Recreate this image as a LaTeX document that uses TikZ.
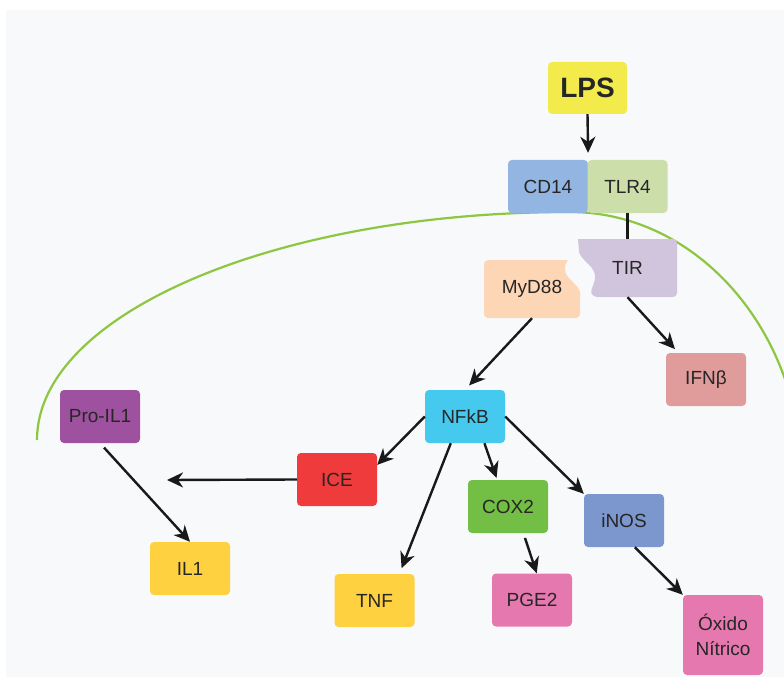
\documentclass[tikz,border=0pt]{standalone}
\usepackage{fontspec}
\setmainfont{Liberation Sans}
\usepackage{tikz}
\usetikzlibrary{arrows.meta}
\definecolor{bgcol}{HTML}{F8F9FB}
\definecolor{lpscol}{HTML}{F3EB4B}
\definecolor{cdcol}{HTML}{93B5E1}
\definecolor{tlrcol}{HTML}{CCDEAA}
\definecolor{tircol}{HTML}{D1C5DD}
\definecolor{mydcol}{HTML}{FDD6B6}
\definecolor{ifncol}{HTML}{E09B9B}
\definecolor{nfcol}{HTML}{46C9EF}
\definecolor{procol}{HTML}{9D519E}
\definecolor{icecol}{HTML}{EF3B3C}
\definecolor{coxcol}{HTML}{73BE44}
\definecolor{inoscol}{HTML}{7B97CD}
\definecolor{ilcol}{HTML}{FDD13F}
\definecolor{pgecol}{HTML}{E578AF}
\definecolor{memcol}{HTML}{8DC63F}
\tikzstyle{box}=[rectangle, rounded corners=4pt, inner sep=0pt, minimum width=80pt, minimum height=53pt, text=black!85, font=\fontsize{19}{25}\selectfont]
\tikzstyle{link}=[-{Stealth[length=16pt,width=15pt,inset=5pt]}, line width=2.4pt, color=black!90]
\tikzstyle{joint}=[line width=2.4pt, color=black!90]
\tikzstyle{membrane}=[line width=2.2pt, color=memcol]

\begin{document}
\begin{tikzpicture}[x=1pt, y=-1pt]
	\useasboundingbox (0,0) rectangle (784,679);
	\fill[bgcol] (6,10) rectangle (784,677);
	\begin{scope}
		\clip (6,10) rectangle (784,677);
		\draw[membrane] (37,440) .. controls (37,314) and (276,212) .. (570,212) .. controls (698,212) and (802,332) .. (802,480);
	\end{scope}
	% puzzle shapes
	\fill[tircol, rounded corners=4pt] (578,239) -- (677,239) -- (677,297) -- (593,297) [sharp corners] .. controls (590,290) and (594,286) .. (595,278) .. controls (596,266) and (582,262) .. (579,252) -- cycle;
	\fill[mydcol, rounded corners=4pt] (568,260) -- (484,260) -- (484,318) -- (580,318) [sharp corners] -- (580,292) .. controls (578,284) and (565,278) .. (565,270) .. controls (565,265) .. (568,260);
	\node[box, fill=lpscol, minimum width=79pt, minimum height=52pt, font=\bfseries\fontsize{28}{30}\selectfont] (lps) at (587.5,88) {LPS};
	\node[box, fill=cdcol] (cd14) at (548,186.5) {CD14};
	\node[box, fill=tlrcol] (tlr4) at (627.5,186.5) {TLR4};
	\node[box, minimum width=99pt, minimum height=58pt] (tir) at (627.5,268) {TIR};
	\node[box, minimum width=96pt, minimum height=58pt] (myd88) at (532,289) {MyD88};
	\node[box, fill=ifncol] (ifnb) at (706,379.5) {IFNβ};
	\node[box, fill=nfcol] (nfkb) at (465,416.5) {NFkB};
	\node[box, fill=procol] (proil1) at (100,416.5) {Pro-IL1};
	\node[box, fill=icecol] (ice) at (337,479.5) {ICE};
	\node[box, fill=coxcol] (cox2) at (508,506.5) {COX2};
	\node[box, fill=inoscol] (inos) at (624,520.5) {iNOS};
	\node[box, fill=ilcol] (il1) at (190,568.5) {IL1};
	\node[box, fill=ilcol] (tnf) at (374.5,600.5) {TNF};
	\node[box, fill=pgecol] (pge2) at (532,600) {PGE2};
	\node[box, fill=pgecol, minimum height=80pt, align=center] (oxido) at (723,635) {Óxido\\Nítrico};
	\coordinate (cut) at (167,480);
	% connectors
	\draw[link, shorten >=7pt] (lps.south) -- (cd14.north east);
	\draw[joint] (tlr4.south) -- (tir.north);
	\draw[link, shorten >=5pt] (tir.south) -- (ifnb.136);
	\draw[link, shorten >=6pt] (myd88.south) -- (nfkb.north);
	\draw[link] (nfkb.west) -- (ice.20);
	\draw[link] (ice.west) -- (cut);
	\draw[link, shorten <=6pt] (proil1.south) -- (il1.north);
	\draw[link, shorten >=6pt] (nfkb.-118) -- (tnf.47);
	\draw[link, shorten >=2pt] (nfkb.-54) -- (cox2.112);
	\draw[link] (nfkb.east) -- (inos.north west);
	\draw[link, shorten <=5pt] (cox2.-60) -- (pge2.80);
	\draw[link] (inos.-68) -- (oxido.north west);
\end{tikzpicture}
\end{document}
